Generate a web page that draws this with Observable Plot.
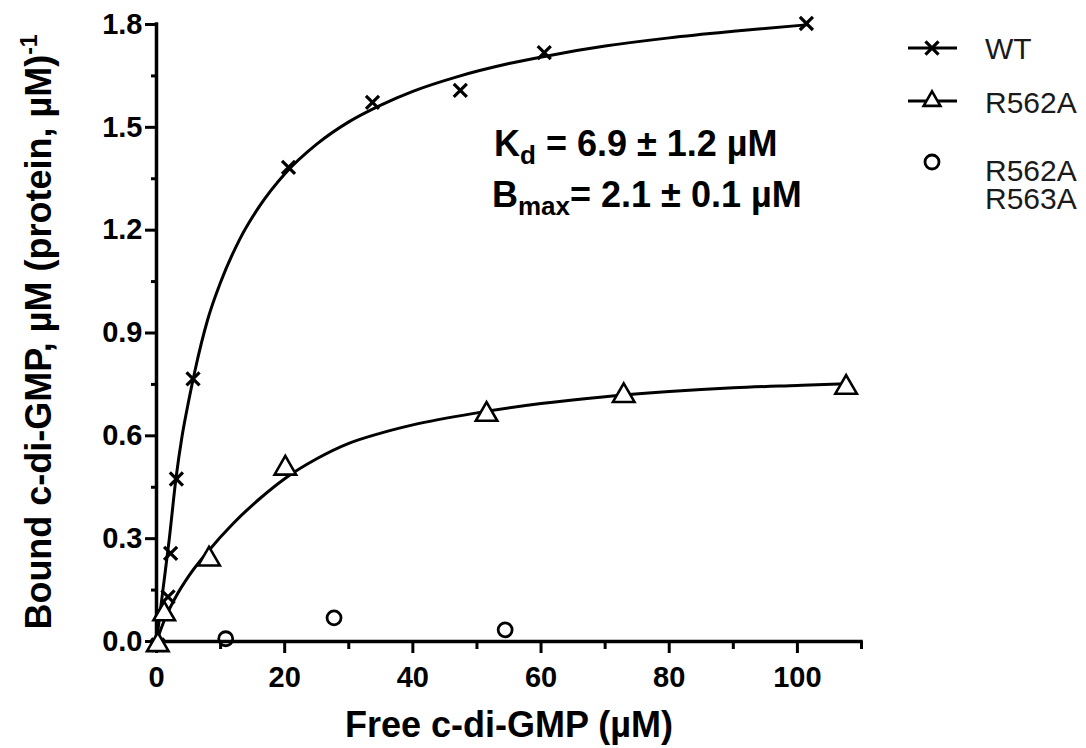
<!DOCTYPE html>
<html>
<head>
<meta charset="utf-8">
<script src="https://cdn.jsdelivr.net/npm/d3@7"></script>
<script src="https://cdn.jsdelivr.net/npm/@observablehq/plot@0.6"></script>
<style>
  html, body { margin: 0; padding: 0; background: #fff; }
  #chart { width: 1086px; height: 748px; }
</style>
</head>
<body>
<div id="chart"></div>
<script>
// ---- data ----
// WT measured points
const wtX = [0.2, 1.8, 2.2, 3.1, 5.7, 20.6, 33.7, 47.4, 60.5, 101.4];
const wtY = [-0.01, 0.13, 0.257, 0.474, 0.766, 1.383, 1.573, 1.608, 1.718, 1.803];
// R562A measured points
const r562aX = [0.2, 1.2, 8.2, 20.1, 51.5, 72.9, 107.6];
const r562aY = [-0.01, 0.08, 0.24, 0.505, 0.662, 0.717, 0.741];
// R562A R563A measured points
const dblX = [10.8, 27.7, 54.4];
const dblY = [0.008, 0.069, 0.034];
// fitted curves
const wtFitX = [0, 1, 2, 3, 4, 5, 6, 8, 10, 13, 16, 20, 25, 30, 35, 40, 47, 55, 62, 70, 80, 90, 101.4];
const wtFitY = [0, 0.15, 0.30, 0.47, 0.60, 0.70, 0.79, 0.94, 1.048, 1.174, 1.268, 1.364, 1.451, 1.516, 1.565, 1.605, 1.648, 1.686, 1.712, 1.737, 1.761, 1.780, 1.799];
const r562aFitX = [0, 1.4, 3, 5, 8, 12, 16, 20, 25, 30, 35, 40, 50, 60, 70, 80, 90, 100, 107.6];
const r562aFitY = [0, 0.07, 0.13, 0.19, 0.262, 0.345, 0.415, 0.475, 0.533, 0.578, 0.608, 0.632, 0.667, 0.694, 0.714, 0.729, 0.740, 0.747, 0.752];
// axes
const xMajor = [0, 20, 40, 60, 80, 100];
const xMinor = [10, 30, 50, 70, 90, 110];
const yMajor = [0, 0.3, 0.6, 0.9, 1.2, 1.5, 1.8];
const yMinor = [0.15, 0.45, 0.75, 1.05, 1.35, 1.65];
const seriesNames = ["WT", "R562A", "R562A\nR563A"];

const FONT = "'Liberation Sans', Arial, Helvetica, sans-serif";

const toRows = (xs, ys) => xs.map((x, i) => ({x, y: ys[i]}));
const wtPts = toRows(wtX, wtY);
const r562aPts = toRows(r562aX, r562aY);
const dblPts = toRows(dblX, dblY);
const wtFit = toRows(wtFitX, wtFitY);
const r562aFit = toRows(r562aFitX, r562aFitY);

const svg = Plot.plot({
  width: 1086,
  height: 748,
  marginLeft: 156,
  marginRight: 225,
  marginTop: 24,
  marginBottom: 107,
  x: {domain: [0, 110]},
  y: {domain: [0, 1.8]},
  style: {fontFamily: FONT, fontSize: "29px", fontWeight: "bold", color: "#000", background: "#fff", overflow: "visible"},
  marks: [
    Plot.axisX({ticks: xMajor, tickSize: 12, tickPadding: 13, strokeWidth: 3, label: null, tickFormat: d => String(d)}),
    Plot.axisX({ticks: xMinor, tickSize: 8, strokeWidth: 3, label: null, tickFormat: () => ""}),
    Plot.axisY({ticks: yMajor, tickSize: 11, tickPadding: 3, strokeWidth: 3, label: null, tickFormat: d3.format(".1f")}),
    Plot.axisY({ticks: yMinor, tickSize: 5, strokeWidth: 3, label: null, tickFormat: () => ""}),
    Plot.ruleY([0], {stroke: "#000", strokeWidth: 3.5, strokeLinecap: "square"}),
    Plot.ruleX([0], {stroke: "#000", strokeWidth: 3.5, strokeLinecap: "square"}),
    Plot.line(wtFit, {x: "x", y: "y", stroke: "#000", strokeWidth: 3, curve: "monotone-x"}),
    Plot.line(r562aFit, {x: "x", y: "y", stroke: "#000", strokeWidth: 3, curve: "monotone-x"}),
    Plot.dot(wtPts, {x: "x", y: "y", symbol: "times", r: 6, stroke: "#000", strokeWidth: 3.2}),
    Plot.dot(r562aPts, {x: "x", y: "y", symbol: "triangle", r: 8, stroke: "#000", fill: "#fff", strokeWidth: 2.6}),
    Plot.dot(dblPts, {x: "x", y: "y", symbol: "circle", r: 7, stroke: "#000", fill: "none", strokeWidth: 2.8})
  ]
});

document.getElementById("chart").appendChild(svg);

// ---- titles, annotation and legend ----
const root = d3.select(svg).append("g").attr("font-family", FONT).attr("fill", "#000");

// x title
root.append("text")
  .attr("x", 509).attr("y", 737)
  .attr("text-anchor", "middle")
  .attr("font-size", 36).attr("font-weight", "bold")
  .text("Free c-di-GMP (\u00b5M)");

// y title
const yt = root.append("text")
  .attr("transform", "translate(51,332) rotate(-90)")
  .attr("text-anchor", "middle")
  .attr("font-size", 36).attr("font-weight", "bold");
yt.append("tspan").text("Bound c-di-GMP, \u00b5M (protein, \u00b5M)");
yt.append("tspan").attr("font-size", 23).attr("dy", -14).text("-1");

// annotation
const k = root.append("text").attr("x", 494).attr("y", 156).attr("text-anchor", "start").attr("font-size", 36).attr("font-weight", "bold");
k.append("tspan").text("K");
k.append("tspan").attr("font-size", 26).attr("dy", 8).text("d");
k.append("tspan").attr("dy", -8).text(" = 6.9 \u00b1 1.2 \u00b5M");
const b = root.append("text").attr("x", 492).attr("y", 207).attr("text-anchor", "start").attr("font-size", 36).attr("font-weight", "bold");
b.append("tspan").text("B");
b.append("tspan").attr("font-size", 26).attr("dy", 8).text("max");
b.append("tspan").attr("dy", -8).text("= 2.1 \u00b1 0.1 \u00b5M");

// legend
const lg = root.append("g");
const symWT = d3.symbol(d3.symbolTimes, Math.PI * 36);
const symTri = d3.symbol(d3.symbolTriangle2, Math.PI * 64);
// WT
lg.append("line").attr("x1", 908).attr("x2", 957).attr("y1", 48).attr("y2", 48).attr("stroke", "#000").attr("stroke-width", 3);
lg.append("path").attr("d", symWT()).attr("transform", "translate(932,48)").attr("stroke", "#000").attr("stroke-width", 3.2).attr("fill", "none");
// R562A
lg.append("line").attr("x1", 908).attr("x2", 957).attr("y1", 101).attr("y2", 101).attr("stroke", "#000").attr("stroke-width", 3);
lg.append("path").attr("d", symTri()).attr("transform", "translate(932,101)").attr("stroke", "#000").attr("stroke-width", 2.6).attr("fill", "#fff");
// double mutant
lg.append("circle").attr("cx", 932).attr("cy", 162).attr("r", 7).attr("stroke", "#000").attr("stroke-width", 2.8).attr("fill", "none");

const legendRows = [
  {lines: [seriesNames[0]], y: 59},
  {lines: [seriesNames[1]], y: 113},
  {lines: seriesNames[2].split("\n"), y: 181}
];
legendRows.forEach(r => {
  r.lines.forEach((t, j) => {
    lg.append("text").attr("x", 985).attr("y", r.y + j * 28)
      .attr("text-anchor", "start")
      .attr("font-size", 30).attr("font-weight", "normal").attr("fill", "#1a1a1a")
      .text(t);
  });
});
</script>
</body>
</html>
